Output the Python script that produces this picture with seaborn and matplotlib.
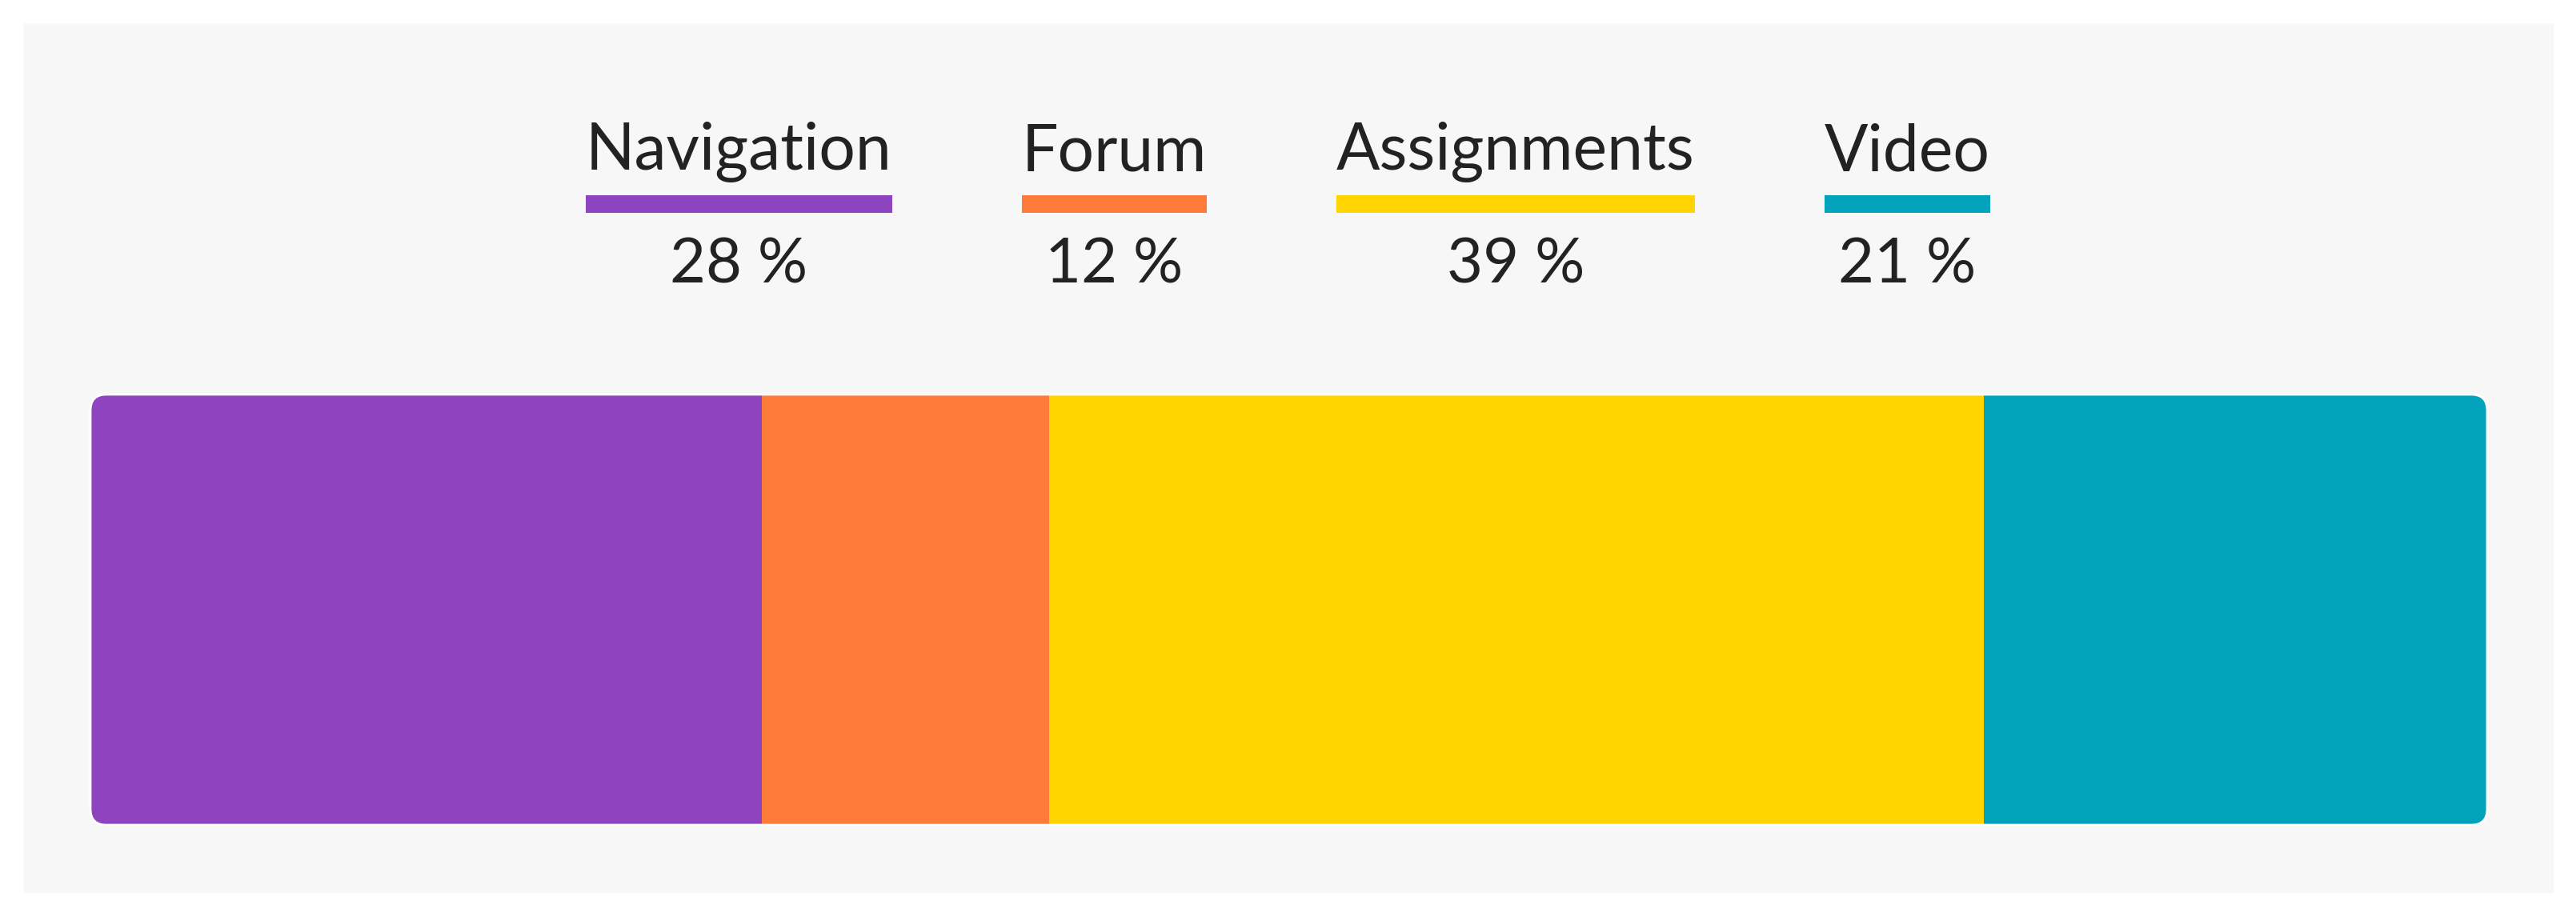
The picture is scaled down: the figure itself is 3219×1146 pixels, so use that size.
import pandas as pd
import matplotlib.pyplot as plt
import seaborn as sns
from matplotlib.patches import Rectangle, FancyBboxPatch
from matplotlib.lines import Line2D

# Данные
categories = ["Navigation", "Forum", "Assignments", "Video"]
shares = [28, 12, 39, 21]
colors = ["#8E44BE", "#FE7B3A", "#FFD400", "#00A3BA"]

W, H, DPI = 3219, 1146, 100

sns.set_theme(style="white")
plt.rcParams['font.family'] = ['Lato', 'DejaVu Sans']

fig = plt.figure(figsize=(W / DPI, H / DPI), dpi=DPI, facecolor="white")

# Серая подложка (под осями)
fig.patches.append(Rectangle((30 / W, 1 - 1115 / H), 3160 / W, 1085 / H,
                             transform=fig.transFigure, color="#f7f7f7", zorder=-5))

# Накопленные суммы для "стопки"
cum = pd.Series(shares).cumsum().tolist()
df = pd.DataFrame({"category": categories, "cum": cum, "row": ["all"] * len(categories)})
order = categories[::-1]
pal = dict(zip(categories, colors))

left, right, top, bottom = 113, 3108, 493, 1031
ax = fig.add_axes([left / W, 1 - bottom / H, (right - left) / W, (bottom - top) / H])
ax.set_facecolor("none")
sns.barplot(data=df, x="cum", y="row", hue="category", hue_order=order,
            palette=pal, dodge=False, width=1, orient="h", saturation=1,
            legend=False, ax=ax, linewidth=0)
ax.set_xlim(0, cum[-1])
ax.set_ylim(0.5, -0.5)
ax.axis("off")

# Скругленные углы всей полосы
clip = FancyBboxPatch((left / DPI, (H - bottom) / DPI), (right - left) / DPI, (bottom - top) / DPI,
                      boxstyle="round,pad=0,rounding_size=0.2", transform=fig.dpi_scale_trans,
                      facecolor="none", edgecolor="white", linewidth=2, zorder=5)
for p in ax.patches:
    p.set_clip_path(clip)
fig.patches.append(clip)

# Легенда сверху: подпись, цветная линия, процент
fs = 58
gap = 162
label_y, line_y, pct_y = 190, 255, 332
labels = [fig.text(0, 1 - label_y / H, c, fontsize=fs, color="#222222",
                   ha="center", va="center") for c in categories]
fig.canvas.draw()
renderer = fig.canvas.get_renderer()
widths = [t.get_window_extent(renderer).width for t in labels]
total = sum(widths) + gap * (len(widths) - 1)
x = W / 2 - total / 2
for t, w, s, c in zip(labels, widths, shares, colors):
    cx = x + w / 2
    t.set_x(cx / W)
    fig.add_artist(Line2D([x / W, (x + w) / W], [1 - line_y / H] * 2,
                          transform=fig.transFigure, color=c, linewidth=22 * 72 / DPI,
                          solid_capstyle="butt"))
    fig.text(cx / W, 1 - pct_y / H, f"{s} %", fontsize=fs - 2, color="#222222",
             ha="center", va="center")
    x += w + gap

fig.savefig("out.png", dpi=DPI, facecolor="white")
